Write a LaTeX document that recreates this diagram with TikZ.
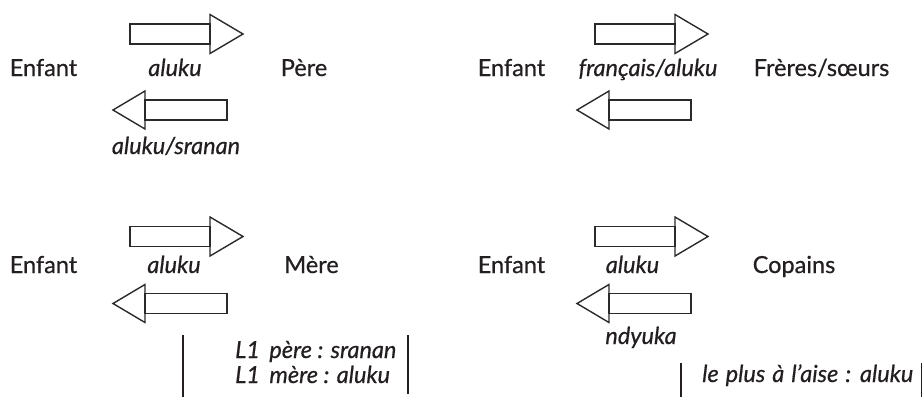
\documentclass[tikz,border=0pt]{standalone}
\usepackage{fontspec}
\setmainfont{Lato}[UprightFeatures={FakeBold=0.6},ItalicFeatures={FakeBold=0.6}]
\definecolor{ink}{HTML}{231F20}
\definecolor{arr}{HTML}{2A2A2A}
\tikzset{
  lbl/.style={inner sep=0pt, anchor=base, text=ink, font=\fontsize{23.5}{27}\selectfont},
  ilbl/.style={lbl, font=\fontsize{23.5}{27}\selectfont\itshape},
  arrline/.style={draw=arr, line width=1.4pt, line join=miter},
  rule/.style={draw=ink, line width=1.4pt},
  rarrow/.pic={
    \draw[arrline] (0,-10) rectangle (80,10);
    \draw[arrline] (80,-19.5) -- (113,0) -- (80,19.5) -- cycle;
  },
  larrow/.pic={
    \draw[arrline] (32,-10) rectangle (114,10);
    \draw[arrline] (32,-19) -- (0,0) -- (32,19) -- cycle;
  }
}
\begin{document}
\begin{tikzpicture}[x=1pt,y=-1pt]
\useasboundingbox (0,0) rectangle (923,397);
% ---------- top left: Pere ----------
\pic at (130,34) {rarrow};
\pic at (113,110) {larrow};
\node[lbl]  (e1) at (43.5,76) {Enfant};
\node[ilbl] (a1) at (175,76) {aluku};
\node[lbl]  (p1) at (304,76) {Père};
\node[ilbl] (s1) at (176,154) {aluku/sranan};
% ---------- top right: Freres/soeurs ----------
\pic at (595,34) {rarrow};
\pic at (577,110) {larrow};
\node[lbl]  (e2) at (511.5,76) {Enfant};
\node[ilbl] (a2) at (648,76) {français/aluku};
\node[lbl]  (p2) at (821.5,76) {Frères/sœurs};
% ---------- bottom left: Mere ----------
\pic at (130,236.5) {rarrow};
\pic at (113,303.5) {larrow};
\node[lbl]  (e3) at (43.5,273) {Enfant};
\node[ilbl] (a3) at (174,273) {aluku};
\node[lbl]  (p3) at (311.5,273) {Mère};
\coordinate (v1t) at (183,335);
\coordinate (v1b) at (183,397);
\coordinate (v2t) at (408,335);
\coordinate (v2b) at (408,394);
\draw[rule] (v1t) -- (v1b);
\draw[rule] (v2t) -- (v2b);
\node[ilbl, anchor=base west] (n1) at (235,358) {L1 \,père : sranan};
\node[ilbl, anchor=base west] (n2) at (235,383) {L1 \,mère : aluku};
% ---------- bottom right: Copains ----------
\pic at (595,236.5) {rarrow};
\pic at (577,303.5) {larrow};
\node[lbl]  (e4) at (511.5,273) {Enfant};
\node[ilbl] (a4) at (632.5,273) {aluku};
\node[lbl]  (p4) at (794,273) {Copains};
\node[ilbl] (s4) at (641,344) {ndyuka};
\coordinate (v3t) at (681,363);
\coordinate (v3b) at (681,397);
\coordinate (v4t) at (921.5,363);
\coordinate (v4b) at (921.5,397);
\draw[rule] (v3t) -- (v3b);
\draw[rule] (v4t) -- (v4b);
\node[ilbl, anchor=base west] (n3) at (702,382) {le\hspace{1.5pt} plus\hspace{1.5pt} à\hspace{1.5pt} l'aise\hspace{1.5pt} :\hspace{1.5pt} aluku};
\end{tikzpicture}
\end{document}
